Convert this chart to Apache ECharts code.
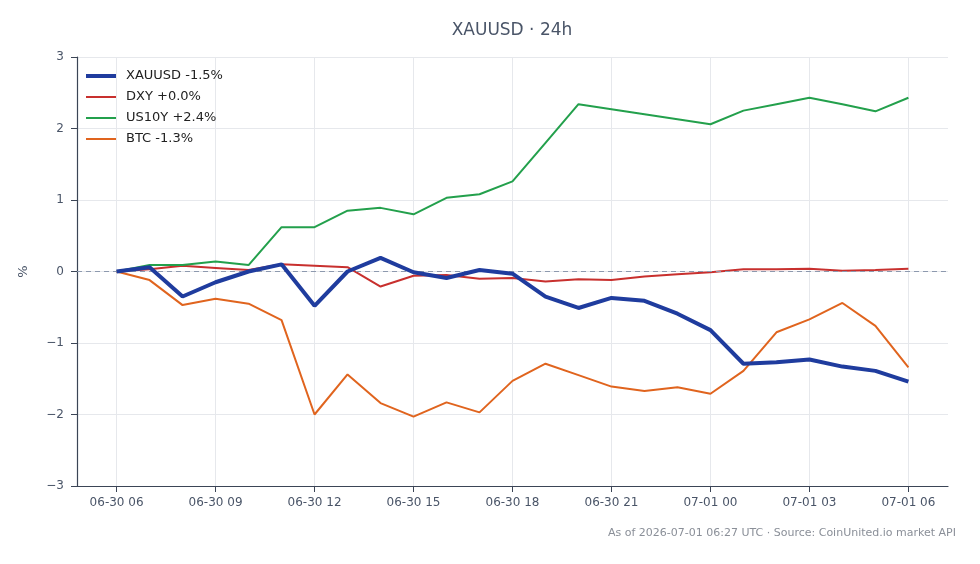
<!DOCTYPE html>
<html>
<head>
<meta charset="utf-8">
<script src="https://cdn.jsdelivr.net/npm/echarts@6/dist/echarts.min.js"></script>
<style>
html,body{margin:0;padding:0;background:#fff;}
#chart{width:980px;height:564px;}
</style>
</head>
<body>
<div id="chart"></div>
<script>
// hourly timestamps: 06-30 06 .. 07-01 06
var hours = [0,1,2,3,4,5,6,7,8,9,10,11,12,13,14,15,16,17,18,19,20,21,22,23,24];
var tickHours = [0,3,6,9,12,15,18,21,24];
var tickLabels = ['06-30 06','06-30 09','06-30 12','06-30 15','06-30 18','06-30 21','07-01 00','07-01 03','07-01 06'];
var yTicks = [-3,-2,-1,0,1,2,3];

var xauusd = [0, 0.06, -0.35, -0.15, 0.0, 0.1, -0.48, 0.0, 0.19, -0.01, -0.09, 0.02, -0.03, -0.35, -0.51, -0.37, -0.41, -0.59, -0.82, -1.29, -1.27, -1.23, -1.33, -1.39, -1.54];
var dxy    = [0, 0.03, 0.08, 0.05, 0.02, 0.1, 0.08, 0.06, -0.21, -0.06, -0.05, -0.1, -0.09, -0.14, -0.11, -0.12, -0.07, -0.04, -0.01, 0.03, 0.03, 0.04, 0.01, 0.02, 0.04];
var us10y  = [0, 0.09, 0.09, 0.14, 0.09, 0.62, 0.62, 0.85, 0.89, 0.80, 1.03, 1.08, 1.26, 1.80, 2.34, 2.27, 2.20, 2.13, 2.06, 2.25, 2.34, 2.43, 2.34, 2.24, 2.43];
var btc    = [0, -0.12, -0.47, -0.38, -0.45, -0.68, -2.0, -1.44, -1.84, -2.03, -1.83, -1.97, -1.53, -1.29, -1.45, -1.61, -1.67, -1.62, -1.71, -1.39, -0.85, -0.67, -0.44, -0.76, -1.34];

var seriesNames = ['XAUUSD -1.5%','DXY +0.0%','US10Y +2.4%','BTC -1.3%'];
var seriesColors = ['#1f3c9e','#c8302e','#23a04c','#e0641e'];
var seriesWidths = [4,2,2,2];
var titleText = 'XAUUSD \u00b7 24h';
var footerText = 'As of 2026-07-01 06:27 UTC \u00b7 Source: CoinUnited.io market API';

function pairs(arr){ return hours.map(function(h,i){ return [h, arr[i]]; }); }

var FONT = '"DejaVu Sans", sans-serif';
var chart = echarts.init(document.getElementById('chart'), null, {renderer:'canvas'});
chart.setOption({
  animation:false,
  backgroundColor:'#ffffff',
  textStyle:{fontFamily:FONT},
  grid:{left:77,right:32,top:57,bottom:78,containLabel:false},
  graphic:[
    {type:'text',x:512,y:31,style:{text:titleText,x:0,y:0,align:'center',verticalAlign:'middle',fill:'#4a5568',font:'17px '+FONT}},
    {type:'text',x:956,y:533,style:{text:footerText,x:0,y:0,align:'right',verticalAlign:'middle',fill:'#8a8f98',font:'11px '+FONT}}
  ],
  legend:{
    orient:'vertical',left:86,top:69,padding:0,itemWidth:30,itemHeight:14,itemGap:7,
    textStyle:{fontFamily:FONT,fontSize:13,color:'#222222',padding:[0,0,0,5],lineHeight:14},
    data:seriesNames.map(function(n,i){
      return {name:n, icon: seriesWidths[i]>3 ? 'path://M0,0h30v4h-30z' : 'path://M0,0h30v2h-30z',
              itemStyle:{color:seriesColors[i]}};
    })
  },
  xAxis:{
    type:'value',min:-1.2,max:25.2,
    axisLine:{show:true,onZero:false,lineStyle:{color:'#3b4556',width:1.2}},
    axisTick:{show:true,inside:false,length:6,customValues:tickHours,lineStyle:{color:'#3b4556'}},
    axisLabel:{customValues:tickHours,color:'#4a5568',fontSize:12,margin:11,fontFamily:FONT,
      formatter:function(v){ var i=tickHours.indexOf(Math.round(v)); return i>=0?tickLabels[i]:''; }},
    splitLine:{show:true,lineStyle:{color:'#e6e8ec',width:1}}
  },
  yAxis:{
    type:'value',min:-3,max:3,interval:1,
    name:'%',nameLocation:'middle',nameGap:47,nameRotate:90,
    nameTextStyle:{color:'#4a5568',fontSize:13,fontFamily:FONT},
    axisLine:{show:true,onZero:false,lineStyle:{color:'#3b4556',width:1.2}},
    axisTick:{show:true,inside:false,length:6,lineStyle:{color:'#3b4556'}},
    axisLabel:{color:'#4a5568',fontSize:12,margin:13,fontFamily:FONT,
      formatter:function(v){ return String(v).replace('-','\u2212'); }},
    splitLine:{show:true,lineStyle:{color:'#e6e8ec',width:1}}
  },
  series:[
    {name:seriesNames[0],type:'line',data:pairs(xauusd),symbol:'none',z:5,
      lineStyle:{color:seriesColors[0],width:seriesWidths[0]},itemStyle:{color:seriesColors[0]},
      markLine:{silent:true,symbol:'none',label:{show:false},
        lineStyle:{color:'#8d99ae',type:[5,4],width:1},data:[{yAxis:0}]}},
    {name:seriesNames[1],type:'line',data:pairs(dxy),symbol:'none',z:3,
      lineStyle:{color:seriesColors[1],width:seriesWidths[1]},itemStyle:{color:seriesColors[1]}},
    {name:seriesNames[2],type:'line',data:pairs(us10y),symbol:'none',z:3,
      lineStyle:{color:seriesColors[2],width:seriesWidths[2]},itemStyle:{color:seriesColors[2]}},
    {name:seriesNames[3],type:'line',data:pairs(btc),symbol:'none',z:3,
      lineStyle:{color:seriesColors[3],width:seriesWidths[3]},itemStyle:{color:seriesColors[3]}}
  ]
});
</script>
</body>
</html>
